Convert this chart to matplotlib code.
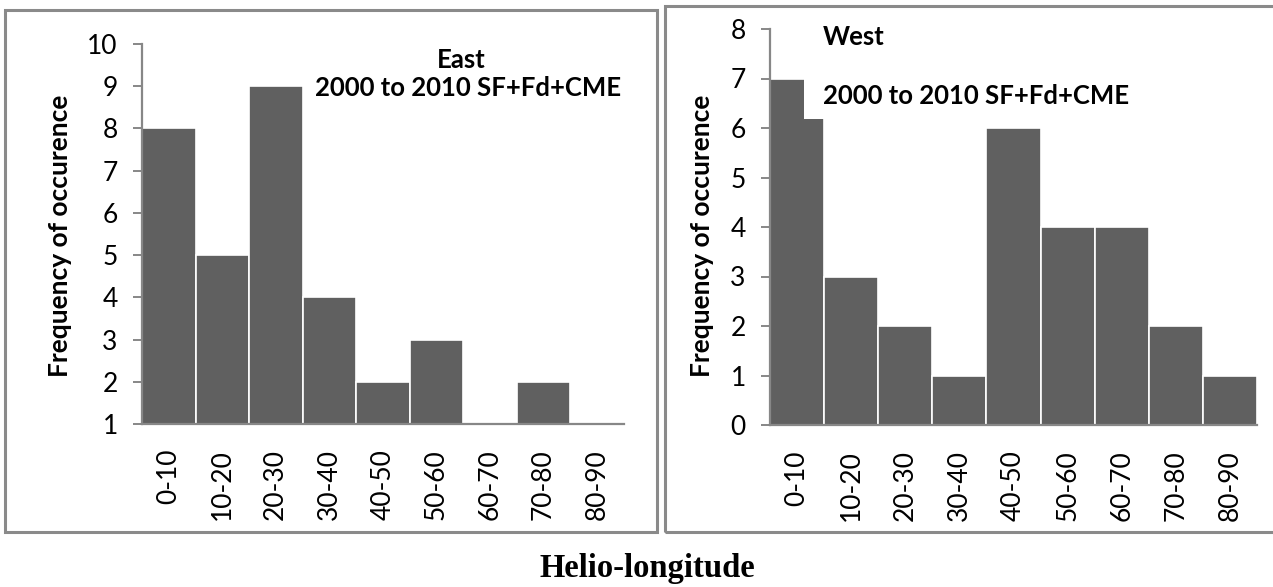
import numpy as np
import matplotlib.pyplot as plt
from matplotlib.patches import Rectangle

# categories (helio-longitude bins)
bins = ['0-10', '10-20', '20-30', '30-40', '40-50', '50-60', '60-70', '70-80', '80-90']
# frequency of occurence
east = [8, 5, 9, 4, 2, 3, 1, 2, 1]
west = [7, 3, 2, 1, 6, 4, 4, 2, 1]

W, H = 1273, 587
bar_color = '#606060'
axis_gray = '#878787'
font = 'Lato'

plt.rcParams['font.family'] = [font, 'DejaVu Sans']

fig = plt.figure(figsize=(W / 100, H / 100), dpi=100)


def px(x0, y0, x1, y1):
    # pixel box -> figure fraction [left, bottom, width, height]
    return [x0 / W, 1 - y1 / H, (x1 - x0) / W, (y1 - y0) / H]


def draw(ax, vals, ymin, ymax):
    x = np.arange(len(vals))
    ax.bar(x, vals, width=1.0, color=bar_color, edgecolor='white', linewidth=1.2)
    ax.set_xlim(-0.5, len(vals) - 0.5)
    ax.set_ylim(ymin, ymax)
    ax.set_yticks(range(ymin, ymax + 1))
    ax.set_xticks(x)
    ax.set_xticklabels(bins, rotation=90)
    for s in ['top', 'right']:
        ax.spines[s].set_visible(False)
    for s in ['left', 'bottom']:
        ax.spines[s].set_color(axis_gray)
        ax.spines[s].set_linewidth(1.6)
    ax.tick_params(axis='y', length=6.5, width=1.4, color=axis_gray, pad=11, labelsize=19)
    ax.tick_params(axis='x', length=0, pad=18, labelsize=19)


# panel frames
for x0, y0, x1, y1 in [(5, 10, 657, 532), (665, 6, 1280, 532)]:
    fig.patches.append(Rectangle((x0 / W, 1 - y1 / H), (x1 - x0) / W, (y1 - y0) / H,
                                 transform=fig.transFigure, fill=False,
                                 edgecolor='#8a8a8a', linewidth=2.2, zorder=0))

ax1 = fig.add_axes(px(142, 44, 623.5, 424))
draw(ax1, east, 1, 10)
ax2 = fig.add_axes(px(770, 29, 1257, 425))
draw(ax2, west, 0, 8)

# annotations
tsize = 18.5
fig.text(437 / W, 1 - 60 / H, 'East', fontsize=tsize, fontweight='bold', va='center', ha='left')
fig.text(315 / W, 1 - 88 / H, '2000 to 2010 SF+Fd+CME', fontsize=tsize, fontweight='bold',
         va='center', ha='left')
fig.text(823 / W, 1 - 37 / H, 'West', fontsize=tsize, fontweight='bold', va='center', ha='left')
# white text box of the west label, it hides the top corner of the first bar
fig.patches.append(Rectangle((804 / W, 1 - 119 / H), 360 / W, 50 / H,
                             transform=fig.transFigure, facecolor='white',
                             edgecolor='none', zorder=2))
fig.text(823 / W, 1 - 96 / H, '2000 to 2010 SF+Fd+CME', fontsize=tsize, fontweight='bold',
         va='center', ha='left', zorder=3)

fig.text(60 / W, 1 - 236 / H, 'Frequency of occurence', fontsize=19, fontweight='bold',
         rotation=90, va='center', ha='center')
fig.text(702 / W, 1 - 236 / H, 'Frequency of occurence', fontsize=19, fontweight='bold',
         rotation=90, va='center', ha='center')

fig.text(647 / W, 1 - 569 / H, 'Helio-longitude', fontsize=23.5, fontweight='bold',
         family='Liberation Serif', va='center', ha='center')

fig.savefig('out.png', dpi=100)
